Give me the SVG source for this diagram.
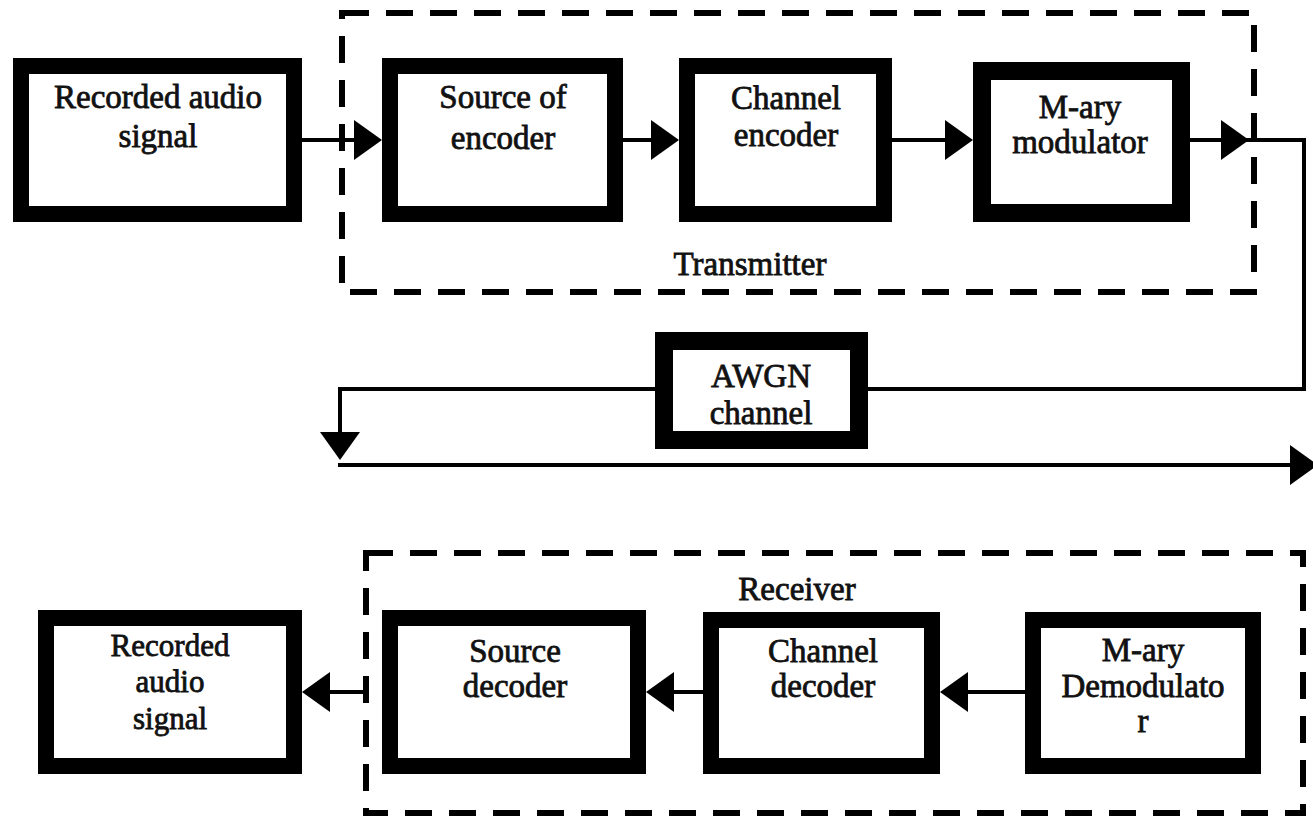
<svg xmlns="http://www.w3.org/2000/svg" width="1313" height="817" viewBox="0 0 1313 817">
<style>
.box{fill:#fff;stroke:#000;stroke-width:16}
.grp{fill:none;stroke:#000;stroke-width:6;stroke-dasharray:27 17}
.wire{fill:none;stroke:#000;stroke-width:4}
text{font-family:"Liberation Serif","Times New Roman",serif;font-size:33px;fill:#111;stroke:#111;stroke-width:0.8;text-anchor:middle}
.sm{font-size:31px}
</style>
<defs>
<marker id="ah" markerUnits="userSpaceOnUse" markerWidth="28" markerHeight="40" refX="20" refY="20" orient="auto">
<path d="M0,0 L28,20 L0,40 Z" fill="#000"/>
</marker>
</defs>
<rect width="1313" height="817" fill="#fff"/>

<g id="transmitter">
<rect class="grp" x="342" y="13" width="912" height="279"/>
<text x="750" y="275">Transmitter</text>
</g>
<g id="receiver">
<rect class="grp" x="366" y="553" width="937" height="260"/>
<text x="797" y="600">Receiver</text>
</g>

<g id="connectors">
<line class="wire" x1="302" y1="140" x2="374" y2="140" marker-end="url(#ah)"/>
<line class="wire" x1="623" y1="140" x2="671" y2="140" marker-end="url(#ah)"/>
<line class="wire" x1="892" y1="140" x2="965" y2="140" marker-end="url(#ah)"/>
<line class="wire" x1="1190" y1="140" x2="1241" y2="140" marker-end="url(#ah)"/>
<polyline class="wire" points="1241,140 1304,140 1304,389 340,389 340,452" marker-end="url(#ah)"/>
<line class="wire" x1="338" y1="465" x2="1310" y2="465" marker-end="url(#ah)"/>
<line class="wire" x1="366" y1="692" x2="310" y2="692" marker-end="url(#ah)"/>
<line class="wire" x1="703" y1="692" x2="654" y2="692" marker-end="url(#ah)"/>
<line class="wire" x1="1025" y1="692" x2="948" y2="692" marker-end="url(#ah)"/>
</g>

<g id="rec_in">
<rect class="box" x="21" y="66" width="273" height="148"/>
<text x="158" y="108">Recorded audio</text>
<text x="158" y="147">signal</text>
</g>
<g id="src_enc">
<rect class="box" x="390" y="66" width="225" height="148"/>
<text x="503" y="108">Source of</text>
<text x="503" y="149">encoder</text>
</g>
<g id="ch_enc">
<rect class="box" x="687" y="66" width="197" height="148"/>
<text x="786" y="109">Channel</text>
<text x="786" y="146">encoder</text>
</g>
<g id="mod">
<rect class="box" x="982" y="71" width="199" height="142" style="stroke-width:18"/>
<text x="1080" y="118">M-ary</text>
<text x="1080" y="153">modulator</text>
</g>
<g id="awgn">
<rect class="box" x="664" y="341" width="195" height="99" style="stroke-width:18"/>
<text x="761" y="387">AWGN</text>
<text x="761" y="424">channel</text>
</g>
<g id="rec_out">
<rect class="box" x="46" y="618" width="248" height="148"/>
<text class="sm" x="170" y="656">Recorded</text>
<text class="sm" x="170" y="692">audio</text>
<text class="sm" x="170" y="729">signal</text>
</g>
<g id="src_dec">
<rect class="box" x="390" y="618" width="248" height="148"/>
<text x="515" y="662">Source</text>
<text x="515" y="697">decoder</text>
</g>
<g id="ch_dec">
<rect class="box" x="711" y="620" width="221" height="146"/>
<text x="823" y="662">Channel</text>
<text x="823" y="697">decoder</text>
</g>
<g id="demod">
<rect class="box" x="1033" y="620" width="220" height="146"/>
<text x="1143" y="661">M-ary</text>
<text x="1143" y="697">Demodulato</text>
<text x="1143" y="732">r</text>
</g>
</svg>
